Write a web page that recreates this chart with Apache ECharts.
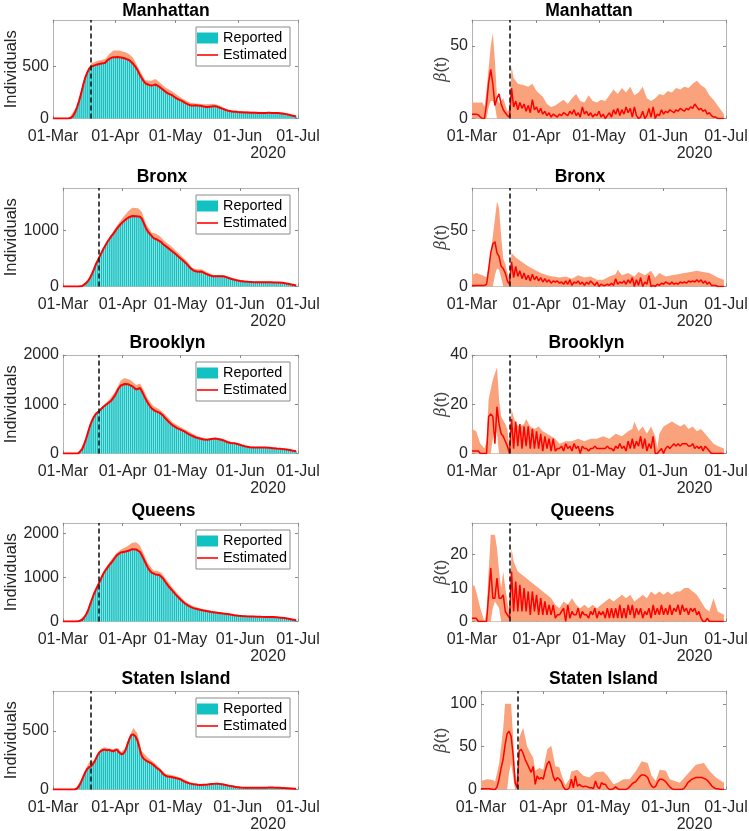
<!DOCTYPE html>
<html><head><meta charset="utf-8">
<script src="https://cdn.jsdelivr.net/npm/echarts@6/dist/echarts.min.js"></script>
<style>html,body{margin:0;padding:0;background:#fff}#c{width:749px;height:831px}</style>
</head><body><div id="c"></div>
<script>
// ---------------- DATA ----------------
const boroughs = ['Manhattan', 'Bronx', 'Brooklyn', 'Queens', 'Staten Island'];
const monthTickDays = [0, 31, 61, 92, 122];          // days since 01-Mar-2020
const monthTickLabels = ['01-Mar', '01-Apr', '01-May', '01-Jun', '01-Jul'];
const yearLabel = '2020';
const dayMax = 122;
const interventionDayCases = 18.7;
const interventionDayBeta = 18.1;

// Daily reported cases (day 0 = 01-Mar) ; estimated curve follows the same reading
const reportedManhattan = [
  0,0,0,0,0,0,0,0,2,8,
  25,60,110,170,240,320,390,440,480,500,
  508,515,520,525,530,532,538,560,575,585,
  590,590,592,590,588,583,578,570,562,545,
  525,500,470,430,395,365,340,330,322,318,
  322,328,318,305,290,275,258,245,235,228,
  215,200,190,180,172,160,148,138,130,125,
  126,128,126,124,120,116,112,112,114,116,
  118,118,112,104,98,90,82,76,72,68,
  66,64,62,61,60,59,58,57,56,56,
  55,55,54,54,54,54,54,55,55,54,
  54,54,52,50,48,46,42,38,34,28,
  24,19];
const reportedBronx = [
  0,0,0,0,0,0,0,0,0,2,
  10,30,60,100,150,220,300,390,460,530,
  600,670,730,790,840,890,930,980,1030,1070,
  1110,1140,1175,1200,1225,1245,1252,1255,1250,1245,
  1240,1200,1120,1040,980,945,900,860,840,830,
  815,790,750,725,700,670,645,620,590,560,
  530,500,470,440,410,370,330,300,280,260,
  262,272,265,248,230,215,200,185,180,182,
  184,185,183,180,176,165,150,138,128,120,
  112,105,98,93,90,87,84,82,80,78,
  77,76,76,76,76,76,75,75,74,73,
  72,71,70,68,65,60,55,48,40,33,
  26,18];
const reportedBrooklyn = [
  0,0,0,0,0,0,0,0,5,30,
  90,190,300,430,560,660,740,800,840,870,
  910,950,985,1010,1040,1070,1110,1180,1260,1330,
  1380,1400,1410,1410,1405,1390,1365,1330,1300,1320,
  1330,1260,1180,1100,1030,970,915,880,860,840,
  830,810,770,720,680,640,600,570,545,520,
  500,485,470,450,425,400,380,360,340,325,
  315,305,295,285,278,278,285,295,300,302,
  298,290,280,270,250,235,222,212,205,208,
  200,188,175,162,150,140,132,127,124,122,
  121,120,120,120,120,120,118,115,112,108,
  104,100,98,94,90,85,80,75,68,60,
  53,47];
const reportedQueens = [
  0,0,0,0,0,0,0,0,3,15,
  40,90,160,250,380,500,620,720,810,900,
  1000,1090,1160,1220,1280,1330,1390,1450,1510,1550,
  1570,1580,1585,1595,1610,1630,1645,1650,1640,1620,
  1580,1500,1410,1320,1230,1160,1110,1080,1070,1068,
  1060,1030,980,910,850,790,740,690,640,590,
  545,500,460,420,385,360,335,315,300,288,
  275,266,258,250,242,235,225,215,210,205,
  200,195,188,182,177,172,165,158,150,143,
  137,131,127,123,120,118,116,115,114,113,
  111,110,108,107,106,105,104,103,102,100,
  97,94,91,88,84,78,72,64,55,46,
  38,30];
const reportedStaten = [
  0,0,0,0,0,0,0,0,0,0,
  0,2,10,30,65,105,145,175,190,200,
  220,250,285,315,330,338,338,335,338,330,
  325,335,338,315,300,305,330,380,430,465,
  470,455,420,360,295,265,252,240,232,222,
  210,195,180,168,150,130,118,110,108,106,
  102,98,94,90,82,72,64,58,52,48,
  44,42,40,39,39,40,41,42,44,46,
  48,50,50,48,45,42,38,34,31,28,
  25,22,20,18,16,15,14,14,14,14,
  14,14,14,14,14,15,15,16,16,16,
  16,15,15,14,13,12,11,10,9,8,
  7,6];

// Upper bound of the estimated-cases band: [day, value]
const casesUpperManhattan = [[0,0],[8,3],[12,120],[16,420],[19,530],[22,555],[26,575],[28,620],[30,655],[33,655],[36,640],[38,620],[40,580],[43,470],[46,370],[49,365],[51,380],[53,350],[56,300],[59,265],[62,225],[65,185],[68,155],[71,145],[75,138],[80,140],[83,125],[86,95],[90,78],[95,70],[100,64],[105,63],[110,62],[115,55],[118,42],[121,24]];
const casesUpperBronx = [[0,0],[9,3],[13,110],[17,410],[20,620],[24,870],[28,1080],[31,1220],[34,1340],[36,1400],[39,1390],[41,1320],[43,1120],[46,960],[48,940],[50,900],[53,800],[57,690],[60,590],[64,460],[67,335],[70,300],[72,305],[75,250],[78,205],[83,205],[86,170],[90,130],[95,100],[100,88],[106,85],[112,80],[116,64],[119,42],[121,22]];
const casesUpperBrooklyn = [[0,0],[8,8],[11,220],[14,580],[17,820],[20,940],[24,1090],[27,1250],[30,1480],[32,1535],[35,1490],[38,1390],[40,1420],[42,1280],[44,1110],[47,960],[50,900],[53,790],[57,630],[61,540],[65,450],[70,345],[75,300],[79,330],[83,300],[88,225],[92,195],[96,145],[100,130],[105,128],[110,115],[115,95],[119,68],[121,50]];
const casesUpperQueens = [[0,0],[8,5],[12,170],[15,520],[18,850],[21,1140],[24,1340],[27,1520],[30,1640],[33,1700],[36,1790],[38,1800],[40,1720],[42,1530],[44,1330],[47,1160],[49,1150],[51,1110],[54,930],[57,760],[60,600],[64,430],[68,340],[72,290],[78,235],[85,190],[92,142],[99,125],[106,115],[112,100],[117,70],[121,32]];
const casesUpperStaten = [[0,0],[11,3],[14,80],[17,200],[19,260],[20,235],[22,300],[24,350],[26,360],[28,350],[30,345],[32,355],[34,320],[36,350],[38,450],[40,525],[42,480],[44,330],[47,275],[50,235],[53,185],[56,135],[60,120],[64,98],[68,62],[73,46],[78,50],[82,58],[86,45],[90,33],[95,20],[100,18],[110,20],[116,16],[121,8]];

// Daily transmission rate beta(t)
const betaManhattan = [
  3,3,3,2.5,1,0,0,10,25,34,
  24,9,14,17,10,6,4,2,1,21,
  8,12,6,11,7,10,5,9,4,13,
  6,8,4,7,3,5,2,4,1,3,
  2,1,3,2,4,3,2,5,3,6,
  2,4,1,8,3,5,2,4,1,3,
  2,5,1,3,0,2,4,1,6,3,
  7,2,6,3,8,4,7,1,8,2,
  0,1,5,0,2,7,1,8,0,3,
  2,6,3,5,4,6,5,4,6,5,
  7,6,5,7,6,8,7,10,8,6,
  7,5,6,3,4,2,1,1,0,0,
  0,0];
const betaBronx = [
  1,1,1,1,1,1,1,2,15,30,
  38,40,30,27,18,16,12,5,2,22,
  8,18,9,14,7,12,6,10,5,11,
  6,9,5,8,4,7,4,6,3,5,
  4,5,3,4,2,5,2,6,1,4,
  3,5,2,4,1,4,2,5,3,1,
  4,0,2,1,1,2,1,3,1,7,
  2,4,3,5,2,6,3,8,0,6,
  1,8,0,4,2,10,0,1,0,2,
  1,3,2,4,3,2,4,2,3,2,
  4,3,4,3,5,4,5,4,6,4,
  6,3,5,2,4,1,1,1,0,0,
  0,0];
const betaBrooklyn = [
  1,1,1,1,0,0,0,0,15,16,
  15,4,19,12,8,7,5,3,0,14,
  2,13,3,12,2,11,3,11,2,10,
  2,9,2,8,1,7,2,6,1,6,
  1,2,2,3,1,4,2,3,1,4,
  2,3,0,3,2,2,1,2,2,3,
  2,2,2,2,2,3,2,2,1,3,
  2,4,2,3,1,5,2,6,2,5,
  3,7,2,6,1,4,2,7,0,0,
  1,2,0,2,3,2,3,4,3,4,
  3,4,4,4,3,3,4,2,3,2,
  3,1,3,2,1,0,0,0,0,0,
  0,0];
const betaQueens = [
  1,1,1,0,0,0,0,0,8,16,
  7,7,13,7,7,8,3,2,1,15,
  3,12,3,11,3,10,3,9,2,9,
  3,8,2,7,2,6,2,5,2,5,
  1,2,2,3,4,0,5,1,3,2,
  2,4,1,3,2,2,1,3,2,4,
  1,3,2,3,1,4,1,4,1,4,
  1,5,1,4,1,5,2,5,1,4,
  2,4,1,3,2,4,1,5,2,4,
  2,5,2,4,2,5,2,4,3,5,
  2,5,3,4,2,4,3,4,2,3,
  1,0,0,1,0,0,0,0,0,0,
  0,0];
const betaStaten = [
  1,1,1,1,1,0.5,0,0,3,12,
  25,35,52,65,68,62,40,8,2,45,
  47,42,35,30,25,20,27,6,16,12,
  14,12,22,30,33,25,15,10,14,12,
  9,3,0,0,2,12,2,16,4,6,
  4,3,4,3,2,2,1,10,3,1,
  8,6,6,2,0,0,1,3,1,0,
  0,0,0,1,3,6,8,9,12,15,
  17,17,16,14,8,4,2,4,9,12,
  12,11,9,6,3,1,0,0,0,0,
  0,1,4,8,10,12,13,14,14,14,
  14,13,12,10,7,4,2,1,1,0,
  0,0];

// beta(t) credible band: [day, value]
const betaUpperManhattan = [[0,11],[5,11],[6,8],[7,20],[9,50],[10,59],[11,40],[12,15],[13,10],[15,14],[17,5],[18,6],[19,36],[20,28],[22,24],[25,23],[27,22],[29,24],[31,19],[34,15],[36,10],[38,8],[40,9],[42,11],[44,13],[46,10],[48,14],[50,17],[52,12],[54,11],[56,16],[58,12],[60,11],[62,13],[64,12],[66,16],[68,20],[70,17],[72,21],[74,18],[76,22],[78,16],[80,18],[82,22],[84,14],[86,12],[88,14],[90,17],[92,16],[94,19],[96,18],[98,21],[100,20],[102,22],[104,21],[106,24],[108,26],[110,23],[112,21],[114,16],[116,13],[118,9],[120,5],[121,3]];
const betaLowerManhattan = [[0,0],[7,0],[8,8],[9,12],[10,12],[11,9],[12,0],[121,0]];
const betaUpperBronx = [[0,10],[2,12],[5,10],[7,8],[9,30],[11,60],[12,76],[13,70],[14,45],[15,25],[16,20],[17,12],[18,8],[19,30],[21,26],[24,22],[27,18],[30,15],[33,12],[36,10],[39,9],[42,8],[45,9],[48,7],[51,10],[54,8],[57,9],[60,6],[63,6],[66,9],[69,11],[70,15],[72,10],[75,12],[78,9],[80,13],[83,10],[86,14],[88,8],[90,12],[93,9],[96,10],[99,11],[102,12],[105,13],[108,14],[111,13],[114,12],[116,10],[118,8],[121,6]];
const betaLowerBronx = [[0,0],[10,0],[11,10],[12,16],[13,15],[14,8],[15,0],[121,0]];
const betaUpperBrooklyn = [[0,10],[2,9],[4,4],[6,2],[7,5],[8,22],[10,30],[12,35],[13,22],[14,15],[16,12],[17,10],[18,2],[19,18],[21,12],[23,11],[25,12],[26,14],[28,11],[30,10],[32,11],[34,9],[36,8],[38,7],[40,6],[42,4],[45,5],[48,5],[51,6],[54,5],[57,6],[60,6],[63,7],[66,6],[69,8],[72,7],[75,9],[77,10],[78,13],[80,9],[82,11],[84,8],[86,11],[88,7],[89,2],[90,8],[92,11],[94,12],[96,13],[98,12],[100,11],[102,12],[104,10],[106,11],[108,9],[110,10],[112,8],[114,6],[116,4],[118,3],[121,2]];
const betaLowerBrooklyn = [[0,0],[9,0],[10,6],[11,11],[12,8],[13,0],[121,0]];
const betaUpperQueens = [[0,10],[1,11],[2,9],[4,4],[6,0],[7,3],[8,15],[9,26],[11,26],[12,22],[13,15],[14,10],[15,15],[16,10],[17,6],[18,2],[19,22],[20,18],[22,15],[24,14],[26,13],[28,12],[30,11],[32,10],[34,9],[36,8],[38,7],[40,5],[42,4],[44,6],[46,5],[48,7],[50,5],[52,4],[54,5],[56,4],[58,5],[60,4],[62,5],[64,6],[66,7],[68,6],[70,7],[72,8],[74,7],[76,8],[78,6],[80,7],[82,8],[84,7],[86,9],[88,8],[90,9],[92,8],[94,9],[96,8],[98,9],[100,9],[102,10],[104,10],[106,9],[108,8],[110,6],[112,4],[114,3],[116,7],[118,3],[121,2]];
const betaLowerQueens = [[0,0],[9,0],[10,4],[11,6],[12,5],[13,4],[14,0],[121,0]];
const betaUpperStaten = [[0,10],[3,12],[6,11],[7,9],[9,30],[11,70],[12,100],[15,100],[16,60],[17,20],[18,8],[19,60],[21,72],[23,50],[26,37],[27,22],[29,25],[31,23],[33,47],[35,51],[37,27],[39,26],[40,18],[42,5],[44,12],[45,21],[48,23],[51,16],[54,14],[57,20],[61,21],[63,16],[66,6],[68,8],[71,12],[74,12],[77,21],[80,33],[83,31],[85,16],[87,10],[89,23],[92,22],[94,12],[99,8],[104,21],[107,29],[111,31],[114,21],[117,14],[121,8]];
const betaLowerStaten = [[0,0],[13,0],[14,20],[15,30],[16,15],[17,0],[121,0]];

// Axis ranges and tick labels
const casesYMax = [950, 1750, 2000, 2240, 840];
const casesYTicks = [[0, 500], [0, 1000], [0, 1000, 2000], [0, 1000, 2000], [0, 500]];
const betaYMax = [68, 88, 40, 29.5, 115];
const betaYTicks = [[0, 50], [0, 50], [0, 20, 40], [0, 10, 20], [0, 50, 100]];

const reported = [reportedManhattan, reportedBronx, reportedBrooklyn, reportedQueens, reportedStaten];
const casesUpper = [casesUpperManhattan, casesUpperBronx, casesUpperBrooklyn, casesUpperQueens, casesUpperStaten];
const beta = [betaManhattan, betaBronx, betaBrooklyn, betaQueens, betaStaten];
const betaUpper = [betaUpperManhattan, betaUpperBronx, betaUpperBrooklyn, betaUpperQueens, betaUpperStaten];
const betaLower = [betaLowerManhattan, betaLowerBronx, betaLowerBrooklyn, betaLowerQueens, betaLowerStaten];

// ---------------- LAYOUT / STYLE ----------------
const FONT = "'Liberation Sans', Arial, Helvetica, sans-serif";
const CYAN = '#12c1c1', RED = '#ff0000', BAND = '#f9a27c', AXIS = '#b4b4b4', TXT = '#262626';
const rowTop = [20, 188, 355, 523, 691];
const rowH = 98.5;
const leftX = [53, 63, 63, 63, 53], leftEnd = 298;
const rightX = [472, 472, 472, 472, 481], rightEnd = 726;
const leftTitleX = [166, 162, 167.5, 163.5, 176];
const rightTitleX = [589, 580, 586.5, 582.5, 603.5];
const titleY = [11, 177.5, 343, 511, 679];

const option = {
  animation: false, backgroundColor: '#fff',
  grid: [], xAxis: [], yAxis: [], series: [], legend: [], graphic: { elements: [] }
};

function addPanel(x, y, w, h, yMax, yTicks) {
  const gi = option.grid.length;
  option.grid.push({ left: x, top: y, width: w, height: h, show: false, containLabel: false, outerBoundsMode: 'none' });
  const line = { show: true, onZero: false, lineStyle: { color: AXIS, width: 1 } };
  const xTick = { show: true, inside: true, length: 3, customValues: monthTickDays, lineStyle: { color: '#888' } };
  const yTick = { show: true, inside: true, length: 3, customValues: yTicks, lineStyle: { color: '#888' } };
  option.xAxis.push({
    type: 'value', gridIndex: gi, min: 0, max: dayMax, position: 'bottom', axisLine: line, splitLine: { show: false },
    axisTick: xTick,
    axisLabel: { show: true, customValues: monthTickDays, margin: 10, color: TXT, fontSize: 16, fontFamily: FONT,
      formatter: v => { const k = monthTickDays.indexOf(Math.round(v)); return k >= 0 ? monthTickLabels[k] : ''; } }
  });
  option.xAxis.push({ type: 'value', gridIndex: gi, min: 0, max: dayMax, position: 'top', axisLine: line,
    splitLine: { show: false }, axisTick: xTick, axisLabel: { show: false } });
  option.yAxis.push({
    type: 'value', gridIndex: gi, min: 0, max: yMax, position: 'left', axisLine: line, splitLine: { show: false },
    axisTick: yTick,
    axisLabel: { show: true, customValues: yTicks, margin: 4, color: TXT, fontSize: 16, fontFamily: FONT,
      formatter: v => String(v) }
  });
  option.yAxis.push({ type: 'value', gridIndex: gi, min: 0, max: yMax, position: 'right', axisLine: line,
    splitLine: { show: false }, axisTick: yTick, axisLabel: { show: false } });
  return gi;
}

function dashLine(day) {
  return { silent: true, symbol: ['none', 'none'], label: { show: false },
    lineStyle: { color: '#1a1a1a', type: [5, 3], width: 1.6 }, data: [{ xAxis: day }] };
}

function addText(x, y, text, font, extra) {
  const el = {
    type: 'text', x: x, y: y, z: 100,
    style: Object.assign({ text: text, font: font, fill: TXT, align: 'center', verticalAlign: 'middle' }, extra || {})
  };
  option.graphic.elements.push(el);
  return el;
}

for (let i = 0; i < boroughs.length; i++) {
  // ---- left: cases ----
  const lw = leftEnd - leftX[i];
  const gl = addPanel(leftX[i], rowTop[i], lw, rowH, casesYMax[i], casesYTicks[i]);
  const dayData = reported[i].map((v, d) => [d, v]);
  option.series.push({ type: 'line', name: 'band' + i, xAxisIndex: 2 * gl, yAxisIndex: 2 * gl, data: casesUpper[i],
    symbol: 'none', silent: true, lineStyle: { width: 0 }, areaStyle: { color: BAND, opacity: 1 }, z: 1 });
  option.series.push({ type: 'line', name: 'mask' + i, xAxisIndex: 2 * gl, yAxisIndex: 2 * gl, data: dayData,
    symbol: 'none', silent: true, lineStyle: { width: 0 }, areaStyle: { color: '#fff', opacity: 1 }, z: 1 });
  option.series.push({ type: 'bar', name: 'Reported', xAxisIndex: 2 * gl, yAxisIndex: 2 * gl, data: dayData,
    barWidth: lw / dayMax * 0.78, silent: true, itemStyle: { color: CYAN }, z: 2 });
  option.series.push({ type: 'line', name: 'Estimated', xAxisIndex: 2 * gl, yAxisIndex: 2 * gl, data: dayData,
    symbol: 'none', showSymbol: false, silent: true, lineStyle: { color: RED, width: 2 }, itemStyle: { color: RED }, z: 3,
    markLine: dashLine(interventionDayCases) });
  option.legend.push({
    orient: 'vertical', right: 749 - 290, top: rowTop[i] + 7, align: 'left',
    itemWidth: 21, itemHeight: 11, itemGap: 1, padding: [3, 3, 3, 1],
    backgroundColor: '#fff', borderColor: '#8a8a8a', borderWidth: 1, borderRadius: 0,
    textStyle: { fontSize: 14.4, fontFamily: FONT, color: '#000', lineHeight: 16 },
    selectedMode: false,
    data: [{ name: 'Reported', icon: 'rect' },
           { name: 'Estimated', icon: 'path://M0,0H40V3H0Z', itemStyle: { color: RED } }]
  });
  addText(leftTitleX[i], titleY[i], boroughs[i], 'bold 17.5px ' + FONT, { fill: '#000' });
  addText(11, rowTop[i] + rowH / 2, 'Individuals', '16.5px ' + FONT).rotation = Math.PI / 2;
  addText(leftEnd - 30, rowTop[i] + rowH + 35, yearLabel, '16px ' + FONT);

  // ---- right: beta(t) ----
  const rw = rightEnd - rightX[i];
  const gr = addPanel(rightX[i], rowTop[i], rw, rowH, betaYMax[i], betaYTicks[i]);
  option.series.push({ type: 'line', name: 'bu' + i, xAxisIndex: 2 * gr, yAxisIndex: 2 * gr, data: betaUpper[i],
    symbol: 'none', silent: true, lineStyle: { width: 0 }, areaStyle: { color: BAND, opacity: 1 }, z: 1 });
  option.series.push({ type: 'line', name: 'bl' + i, xAxisIndex: 2 * gr, yAxisIndex: 2 * gr, data: betaLower[i],
    symbol: 'none', silent: true, lineStyle: { width: 0 }, areaStyle: { color: '#fff', opacity: 1 }, z: 2 });
  option.series.push({ type: 'line', name: 'beta' + i, xAxisIndex: 2 * gr, yAxisIndex: 2 * gr,
    data: beta[i].map((v, d) => [d, v]), symbol: 'none', silent: true,
    lineStyle: { color: RED, width: 1.5 }, z: 3, markLine: dashLine(interventionDayBeta) });
  addText(rightTitleX[i], titleY[i], boroughs[i], 'bold 17.5px ' + FONT, { fill: '#000' });
  option.graphic.elements.push({
    type: 'text', x: 441.5, y: rowTop[i] + rowH / 2, rotation: Math.PI / 2, z: 100,
    style: { text: '{b|β}{t|(t)}', align: 'center', verticalAlign: 'middle', fill: '#444',
      rich: { b: { fontFamily: "'DejaVu Serif', serif", fontStyle: 'italic', fontSize: 16, fill: '#444' },
              t: { fontFamily: FONT, fontSize: 16.5, fill: '#444' } } }
  });
  addText(rightEnd - 31.5, rowTop[i] + rowH + 35, yearLabel, '16px ' + FONT);
}

const chart = echarts.init(document.getElementById('c'), null, { renderer: 'canvas' });
chart.setOption(option);
</script>
</body></html>
